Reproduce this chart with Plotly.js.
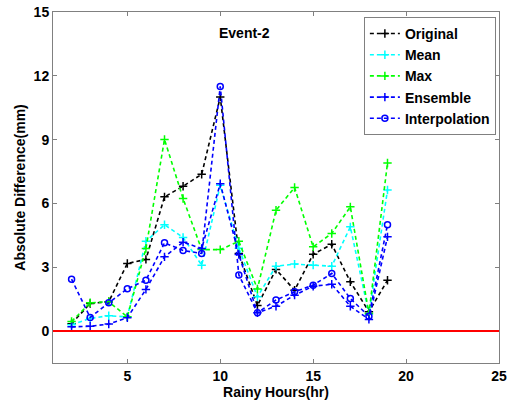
<!DOCTYPE html>
<html>
<head>
<meta charset="utf-8">
<script src="https://cdn.plot.ly/plotly-3.0.1.min.js"></script>
<style>
  html, body { margin: 0; padding: 0; background: #fff; }
  #chart { width: 512px; height: 406px; }
</style>
</head>
<body>
<div id="chart"></div>
<script>
// Rainy hours (x) for Event-2
const hours = [2, 3, 4, 5, 6, 7, 8, 9, 10, 11, 12, 13, 14, 15, 16, 17, 18, 19];

// Absolute difference (mm) per method
const original      = [0.35, 1.30, 1.38, 3.18, 3.37, 6.31, 6.81, 7.37, 11.0, 3.65, 1.20, 2.90, 1.92, 3.61, 4.08, 2.32, 0.91, 2.39];
const meanVals      = [0.30, 0.60, 0.72, 0.67, 4.22, 5.00, 4.40, 3.10, 6.85, 3.90, 1.61, 3.05, 3.15, 3.10, 3.05, 4.90, 0.80, 6.63];
const maxVals       = [0.45, 1.33, 1.38, 0.67, 3.88, 9.01, 6.23, 3.83, 3.83, 4.22, 1.98, 5.68, 6.75, 3.96, 4.59, 5.84, 0.83, 7.90];
const ensemble      = [0.20, 0.23, 0.33, 0.63, 1.96, 3.49, 4.18, 3.88, 6.93, 3.60, 0.86, 1.17, 1.69, 2.11, 2.20, 1.17, 0.55, 4.43];
const interpolation = [2.44, 0.64, 1.33, 1.99, 2.39, 4.15, 3.79, 3.65, 11.5, 2.64, 0.86, 1.46, 1.85, 2.16, 2.71, 1.53, 0.70, 5.00];

const xTicks = [5, 10, 15, 20, 25];
const yTicks = [0, 3, 6, 9, 12, 15];

const FONT = 'Liberation Sans, Arial, sans-serif';
const FS = 14;

function series(name, y, color, symbol, size) {
  return {
    x: hours, y: y, name: name, type: 'scatter', mode: 'lines+markers',
    line: { color: color, width: 1.6, dash: '4px,3px' },
    marker: { color: color, symbol: symbol, size: size, line: { color: color, width: 1.5 } }
  };
}

const data = [
  series('Original', original, '#000000', 'cross-thin-open', 6),
  series('Mean', meanVals, '#00FFFF', 'cross-thin-open', 6),
  series('Max', maxVals, '#00FF00', 'cross-thin-open', 6),
  series('Ensemble', ensemble, '#0000FF', 'cross-thin-open', 6),
  series('Interpolation', interpolation, '#0000FF', 'circle-open', 6)
];

const axisCommon = {
  showgrid: false, zeroline: false, showline: true, mirror: 'ticks',
  linecolor: '#808080', linewidth: 1, ticks: 'inside', ticklen: 4,
  tickcolor: '#808080', tickfont: { family: FONT, size: FS, color: '#000', weight: 'bold' }
};

const layout = {
  width: 512, height: 406,
  margin: { l: 53, r: 13, t: 12, b: 43 },
  paper_bgcolor: '#fff', plot_bgcolor: '#fff',
  font: { family: FONT, color: '#000' },
  showlegend: true,
  xaxis: Object.assign({}, axisCommon, {
    range: [1, 25], tickvals: xTicks,
    title: { text: '<b>Rainy Hours(hr)</b>', font: { family: FONT, size: FS }, standoff: 0 }
  }),
  yaxis: Object.assign({}, axisCommon, {
    range: [-1.5, 15], tickvals: yTicks,
    title: { text: '<b>Absolute Difference(mm)</b>', font: { family: FONT, size: FS }, standoff: 4 }
  }),
  legend: {
    x: 0.993, y: 0.986, xanchor: 'right', yanchor: 'top',
    bgcolor: '#fff', bordercolor: '#808080', borderwidth: 1,
    font: { family: FONT, size: FS, color: '#000', weight: 'bold' },
    itemwidth: 30, tracegroupgap: 0
  },
  shapes: [{
    type: 'line', xref: 'paper', x0: 0, x1: 1, yref: 'y', y0: 0, y1: 0,
    line: { color: '#FF0000', width: 2 }
  }],
  annotations: [{
    text: '<b>Event-2</b>', xref: 'paper', yref: 'paper', x: 0.43, y: 0.94,
    xanchor: 'center', yanchor: 'middle',
    showarrow: false, font: { family: FONT, size: FS, color: '#000' }
  }]
};

Plotly.newPlot('chart', data, layout, { displayModeBar: false, staticPlot: true });
</script>
</body>
</html>
